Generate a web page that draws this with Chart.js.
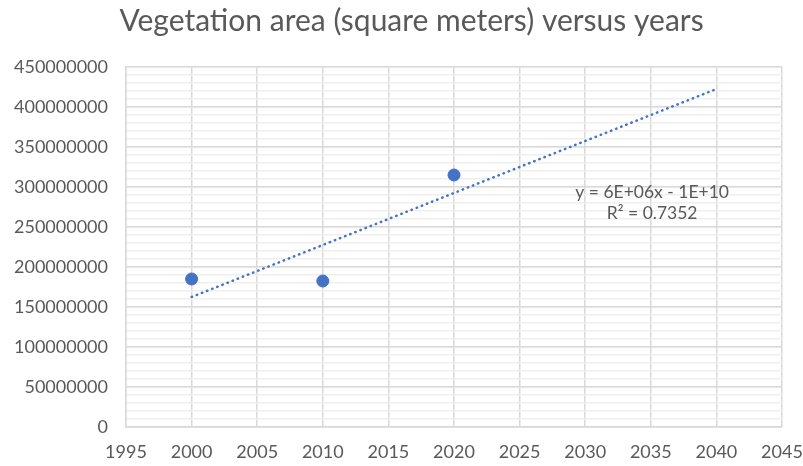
<!DOCTYPE html>
<html>
<head>
<meta charset="utf-8">
<script src="https://cdn.jsdelivr.net/npm/chart.js@4/dist/chart.umd.min.js"></script>
<style>
  html, body { margin: 0; padding: 0; background: #fff; }
  #wrap { width: 803px; height: 466px; }
</style>
</head>
<body>
<div id="wrap"><canvas id="chart" width="803" height="466"></canvas></div>
<script>
// données
const years = [2000, 2010, 2020];
const area = [185000000, 182500000, 315000000];
const trendYears = [2000, 2040];
const eqLines = ['y = 6E+06x - 1E+10', 'R\u00b2 = 0.7352'];

// droite de tendance (moindres carrés)
function linReg(xs, ys) {
    const n = xs.length;
    const mx = xs.reduce((a, b) => a + b, 0) / n;
    const my = ys.reduce((a, b) => a + b, 0) / n;
    let num = 0, den = 0;
    for (let i = 0; i < n; i++) {
        num += (xs[i] - mx) * (ys[i] - my);
        den += (xs[i] - mx) * (xs[i] - mx);
    }
    const slope = num / den;
    return { slope: slope, icpt: my - slope * mx };
}
const reg = linReg(years, area);
const trendPts = trendYears.map(x => ({ x: x, y: reg.slope * x + reg.icpt }));

const txtColor = '#595959';
const fontFam = 'Lato, "Open Sans", sans-serif';

const eqLabel = {
    id: 'eqLabel',
    afterLayout(chart) {
        // titre un peu décalé vers la droite comme dans Excel
        if (chart.titleBlock) chart.titleBlock.left += 20;
    },
    afterDatasetsDraw(chart) {
        const ctx = chart.ctx;
        const x = chart.scales.x.getPixelForValue(2035.1);
        const y = chart.scales.y.getPixelForValue(293500000);
        ctx.save();
        ctx.fillStyle = txtColor;
        ctx.font = '17.5px ' + fontFam;
        ctx.textAlign = 'center';
        ctx.textBaseline = 'middle';
        ctx.fillText(eqLines[0], x, y);
        ctx.fillText(eqLines[1], x, y + 21);
        ctx.restore();
    }
};

new Chart(document.getElementById('chart'), {
    type: 'scatter',
    data: {
        datasets: [{
            label: 'Vegetation area',
            data: years.map((y, i) => ({ x: y, y: area[i] })),
            backgroundColor: '#4472C4',
            borderColor: '#4472C4',
            pointRadius: 6,
            pointHoverRadius: 6,
            order: 1
        }, {
            label: 'Trend',
            type: 'line',
            data: trendPts,
            borderColor: '#4472C4',
            borderWidth: 2.5,
            borderDash: [0.5, 5],
            borderCapStyle: 'round',
            pointRadius: 0,
            fill: false,
            order: 2
        }]
    },
    options: {
        responsive: false,
        animation: false,
        layout: { padding: { left: 0, right: 0, top: 0, bottom: 0 } },
        plugins: {
            legend: { display: false },
            tooltip: { enabled: false },
            title: {
                display: true,
                text: 'Vegetation area (square meters) versus years',
                color: txtColor,
                font: { family: fontFam, size: 30, weight: 'normal' },
                padding: { top: 3, bottom: 28 }
            }
        },
        scales: {
            x: {
                type: 'linear',
                min: 1995, max: 2045,
                ticks: {
                    stepSize: 5,
                    color: txtColor,
                    font: { family: fontFam, size: 18 },
                    padding: 14,
                    callback: v => String(v)
                },
                grid: { color: '#d9d9d9', lineWidth: 1.5, drawTicks: false },
                border: { color: '#d9d9d9', width: 1.5 },
                afterFit(s) {
                    s.height = 39;
                    s.paddingLeft = 0;
                    s.paddingRight = 21;
                }
            },
            yMinor: {
                type: 'linear',
                position: 'left',
                min: 0, max: 450000000,
                ticks: { stepSize: 10000000, display: false },
                grid: { color: '#efefef', lineWidth: 1.5, drawTicks: false },
                border: { display: false },
                afterFit(s) { s.width = 0; }
            },
            y: {
                type: 'linear',
                min: 0, max: 450000000,
                ticks: {
                    stepSize: 50000000,
                    color: txtColor,
                    font: { family: fontFam, size: 18 },
                    padding: 18,
                    callback: v => String(v)
                },
                grid: { color: '#d9d9d9', lineWidth: 1.5, drawTicks: false },
                border: { color: '#d9d9d9', width: 1.5 },
                afterFit(s) { s.width = 126; }
            }
        }
    },
    plugins: [eqLabel]
});
</script>
</body>
</html>
